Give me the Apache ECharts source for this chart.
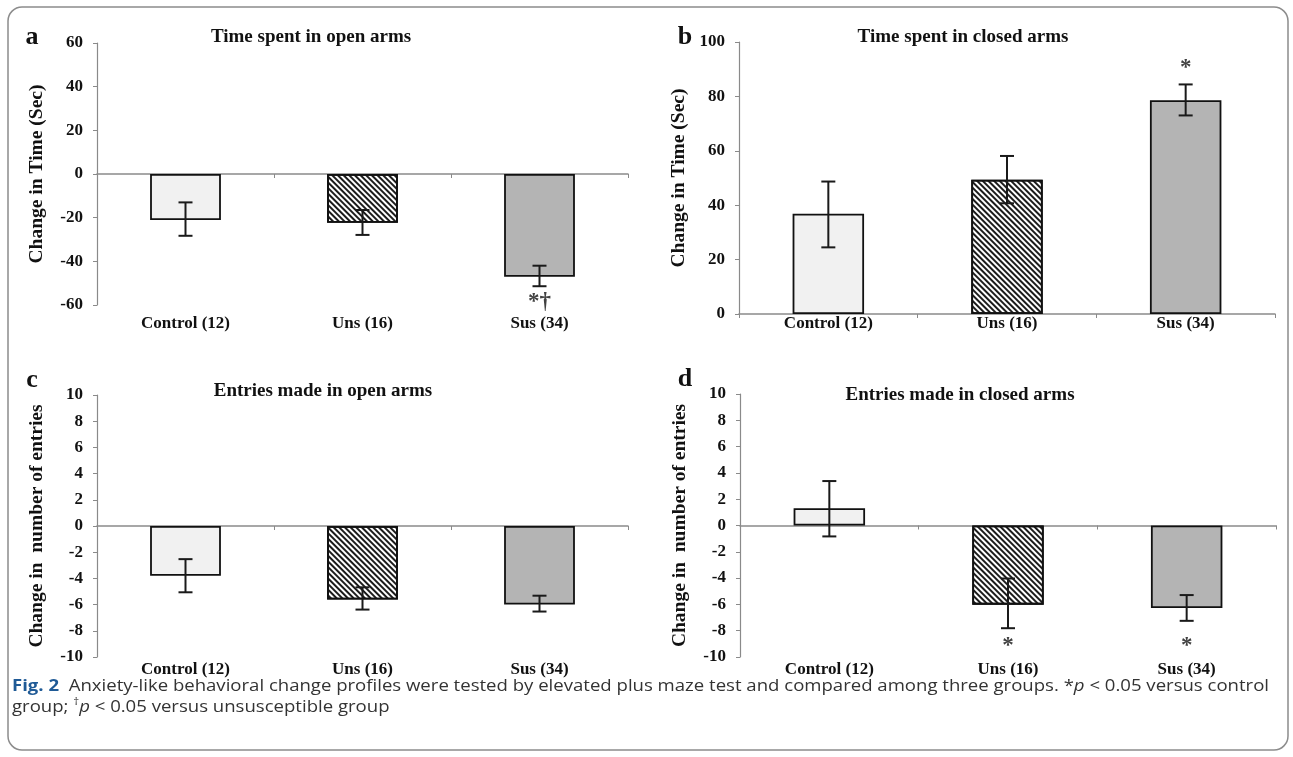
<!DOCTYPE html>
<html>
<head>
<meta charset="utf-8">
<title>Fig. 2</title>
<script src="https://cdn.jsdelivr.net/npm/echarts@6/dist/echarts.min.js"></script>
<style>
    html, body { margin: 0; padding: 0; background: #fff; }
    #chart { width: 1293px; height: 757px; }
</style>
</head>
<body>
<div id="chart"></div>
<script>
(function () {
    'use strict';

    // groups on every x axis
    var groups = ['Control (12)', 'Uns (16)', 'Sus (34)'];

    // a - time spent in open arms (sec)
    var openTimeMean = [-21.1, -22.3, -47.1];
    var openTimeLow = [-28.3, -27.9, -51.4];
    var openTimeHigh = [-13.0, -16.5, -42.0];

    // b - time spent in closed arms (sec)
    var closedTimeMean = [36.9, 49.4, 78.6];
    var closedTimeLow = [24.5, 40.7, 73.0];
    var closedTimeHigh = [48.7, 58.1, 84.4];

    // c - entries made in open arms
    var openEntryMean = [-3.8, -5.62, -6.0];
    var openEntryLow = [-5.06, -6.38, -6.53];
    var openEntryHigh = [-2.53, -4.68, -5.32];

    // d - entries made in closed arms
    var closedEntryMean = [1.31, -6.02, -6.27];
    var closedEntryLow = [-0.83, -7.81, -7.25];
    var closedEntryHigh = [3.38, -4.03, -5.29];

    // significance marks: [group index, value where the mark sits, text]
    var marksA = [[2, -58.8, '*†']];
    var marksB = [[2, 90.5, '*']];
    var marksD = [[1, -9.2, '*'], [2, -9.2, '*']];

    // y axis ranges
    var timeOpenTicks = {min: -60, max: 60, interval: 20};
    var timeClosedTicks = {min: 0, max: 100, interval: 20};
    var entryTicks = {min: -10, max: 10, interval: 2};

    var titles = ['Time spent in open arms', 'Time spent in closed arms',
        'Entries made in open arms', 'Entries made in closed arms'];
    var yNames = ['Change in Time (Sec)', 'Change in Time (Sec)',
        'Change in  number of entries', 'Change in  number of entries'];
    var letters = ['a', 'b', 'c', 'd'];

    var serif = "'Liberation Serif', 'DejaVu Serif', serif";
    var sans = "'Open Sans', 'Noto Sans', sans-serif";

    var barColors = [
        {color: '#f1f1f1'},
        {color: '#ffffff', decal: {
            symbol: 'rect', symbolSize: 1, color: '#1c1c1c',
            dashArrayX: [1, 0], dashArrayY: [1.3, 1.5], rotation: Math.PI / 4
        }},
        {color: '#b4b4b4'}
    ];

    var grids = [
        {left: 97, top: 43, width: 531, height: 262},
        {left: 739, top: 42, width: 536, height: 272},
        {left: 97, top: 395, width: 531, height: 262},
        {left: 740, top: 394, width: 536, height: 263}
    ];
    // the group labels of the top row share one line, as do those of the bottom row
    var labelMargins = [10, 1.5, 4, 4];
    var panels = [
        {mean: openTimeMean, low: openTimeLow, high: openTimeHigh, ticks: timeOpenTicks, marks: marksA},
        {mean: closedTimeMean, low: closedTimeLow, high: closedTimeHigh, ticks: timeClosedTicks, marks: marksB},
        {mean: openEntryMean, low: openEntryLow, high: openEntryHigh, ticks: entryTicks, marks: []},
        {mean: closedEntryMean, low: closedEntryLow, high: closedEntryHigh, ticks: entryTicks, marks: marksD}
    ];

    function renderErr(params, api) {
        var lo = api.coord([api.value(0), api.value(1)]);
        var hi = api.coord([api.value(0), api.value(2)]);
        var x = lo[0];
        var half = 7;
        var st = {stroke: '#1a1a1a', lineWidth: 2};
        return {
            type: 'group',
            children: [
                {type: 'line', shape: {x1: x, y1: lo[1], x2: x, y2: hi[1]}, style: st},
                {type: 'line', shape: {x1: x - half, y1: lo[1], x2: x + half, y2: lo[1]}, style: st},
                {type: 'line', shape: {x1: x - half, y1: hi[1], x2: x + half, y2: hi[1]}, style: st}
            ]
        };
    }

    var xAxes = [], xLines = [], yAxes = [], series = [], graphics = [];

    panels.forEach(function (p, i) {
        // x axis carrying the group labels at the bottom of the plot
        xAxes.push({
            type: 'category', gridIndex: i, data: groups, position: 'bottom',
            axisLine: {show: false, onZero: false}, axisTick: {show: false},
            axisLabel: {fontFamily: serif, fontWeight: 'bold', fontSize: 17, color: '#111', margin: labelMargins[i]}
        });
        // x axis line drawn on zero
        xLines.push({
            type: 'category', gridIndex: i, data: groups, position: 'bottom',
            axisLine: {show: true, onZero: true, lineStyle: {color: '#8a8a8a', width: 1.5}},
            axisTick: {show: true, length: 4, lineStyle: {color: '#8a8a8a'}},
            axisLabel: {show: false}
        });
        yAxes.push({
            type: 'value', gridIndex: i,
            min: p.ticks.min, max: p.ticks.max, interval: p.ticks.interval,
            name: yNames[i], nameLocation: 'middle', nameGap: 50,
            nameTextStyle: {fontFamily: serif, fontWeight: 'bold', fontSize: 19.5, color: '#111'},
            axisLine: {show: true, lineStyle: {color: '#8a8a8a', width: 1.2}},
            axisTick: {show: true, length: 4, lineStyle: {color: '#8a8a8a'}},
            axisLabel: {fontFamily: serif, fontWeight: 'bold', fontSize: 17, color: '#111', margin: 14},
            splitLine: {show: false}
        });

        series.push({
            type: 'bar', xAxisIndex: i, yAxisIndex: i, barWidth: '40%',
            data: p.mean.map(function (v, k) {
                return {
                    value: v,
                    itemStyle: Object.assign({borderColor: '#111', borderWidth: 1.8}, barColors[k])
                };
            }),
            z: 2
        });
        series.push({
            type: 'custom', xAxisIndex: i, yAxisIndex: i,
            renderItem: renderErr,
            data: p.mean.map(function (v, k) { return [k, p.low[k], p.high[k]]; }),
            z: 5
        });
        if (p.marks.length) {
            series.push({
                type: 'scatter', xAxisIndex: i, yAxisIndex: i, symbolSize: 0,
                data: p.marks.map(function (m) { return {value: [m[0], m[1]], name: m[2]}; }),
                label: {
                    show: true, position: 'inside', formatter: '{b}',
                    fontFamily: serif, fontWeight: 'bold', fontSize: 23, color: '#111'
                },
                z: 6
            });
        }
    });

    var titleCenters = [[311, 37], [963, 37], [323, 391], [960, 395]];
    var letterPos = [[32, 37], [685, 37], [32, 380], [685, 379]];
    titles.forEach(function (t, i) {
        graphics.push({
            type: 'text', x: titleCenters[i][0], y: titleCenters[i][1],
            style: {text: t, fontFamily: serif, fontWeight: 'bold', fontSize: 19, fill: '#111',
                textAlign: 'center', textVerticalAlign: 'middle'}
        });
        graphics.push({
            type: 'text', x: letterPos[i][0], y: letterPos[i][1],
            style: {text: letters[i], fontFamily: serif, fontWeight: 'bold', fontSize: 26, fill: '#111',
                textAlign: 'center', textVerticalAlign: 'middle'}
        });
    });

    // rounded frame around the figure
    graphics.push({
        type: 'rect', shape: {x: 8, y: 7, width: 1280, height: 743, r: 14},
        style: {fill: 'none', stroke: '#8c8c8c', lineWidth: 1.5}, z: -1
    });

    // caption, set in a narrow face: stretched sideways to the width of the original
    graphics.push({
        type: 'text', x: 12, y: 676, scaleX: 1.16,
        style: {
            text: '{fig|Fig. 2}  Anxiety-like behavioral change profiles were tested by elevated plus maze test and compared among three groups. *{it|p} < 0.05 versus control\n' +
                'group; {sup|†}{it|p} < 0.05 versus unsusceptible group',
            fontFamily: sans, fontSize: 16, fill: '#333', lineHeight: 21,
            rich: {
                fig: {fontFamily: sans, fontWeight: 'bold', fontSize: 16, fill: '#1f5a96', lineHeight: 21},
                it: {fontFamily: sans, fontStyle: 'italic', fontSize: 16, fill: '#333', lineHeight: 21},
                sup: {fontFamily: sans, fontSize: 10, fill: '#333', verticalAlign: 'top', lineHeight: 21}
            }
        }
    });

    var myChart = echarts.init(document.getElementById('chart'), null, {renderer: 'canvas'});
    myChart.setOption({
        backgroundColor: '#fff',
        animation: false,
        grid: grids,
        xAxis: xAxes.concat(xLines),
        yAxis: yAxes,
        series: series,
        graphic: graphics
    });
})();
</script>
</body>
</html>
